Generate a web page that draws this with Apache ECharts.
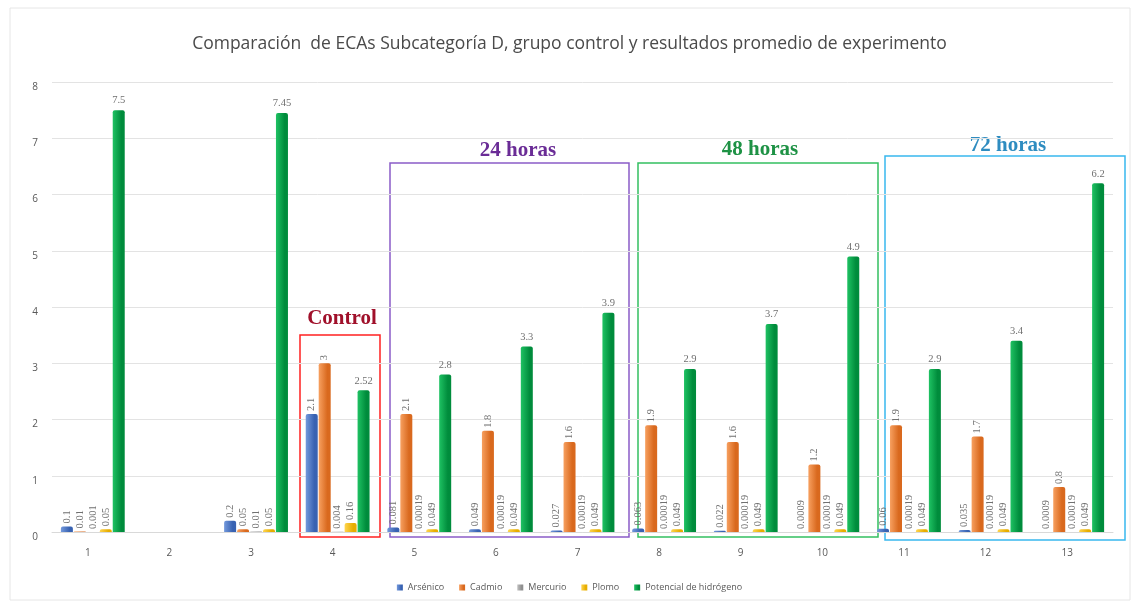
<!DOCTYPE html>
<html>
<head>
<meta charset="utf-8">
<script src="https://cdn.jsdelivr.net/npm/echarts@6/dist/echarts.min.js"></script>
<style>
  html, body { margin: 0; padding: 0; background: #fff; }
  #chart { width: 1139px; height: 605px; }
</style>
</head>
<body>
<div id="chart"></div>
<script>
const categories = ['1', '2', '3', '4', '5', '6', '7', '8', '9', '10', '11', '12', '13'];
const arsenico = [0.1, null, 0.2, 2.1, 0.081, 0.049, 0.027, 0.063, 0.022, 0.0009, 0.06, 0.035, 0.0009];
const cadmio = [0.01, null, 0.05, 3, 2.1, 1.8, 1.6, 1.9, 1.6, 1.2, 1.9, 1.7, 0.8];
const mercurio = [0.001, null, 0.01, 0.004, 0.00019, 0.00019, 0.00019, 0.00019, 0.00019, 0.00019, 0.00019, 0.00019, 0.00019];
const plomo = [0.05, null, 0.05, 0.16, 0.049, 0.049, 0.049, 0.049, 0.049, 0.049, 0.049, 0.049, 0.049];
const ph = [7.5, null, 7.45, 2.52, 2.8, 3.3, 3.9, 2.9, 3.7, 4.9, 2.9, 3.4, 6.2];
const yTicks = [0, 1, 2, 3, 4, 5, 6, 7, 8];

var chart = echarts.init(document.getElementById('chart'));

const grad = (light, dark) => new echarts.graphic.LinearGradient(0, 0, 1, 0, [
  { offset: 0, color: light },
  { offset: 0.72, color: dark },
  { offset: 0.73, color: dark },
  { offset: 1, color: dark }
]);

const rotLabel = {
  show: true,
  position: 'top',
  rotate: 90,
  align: 'left',
  verticalAlign: 'middle',
  distance: 3,
  fontFamily: 'Liberation Serif',
  fontSize: 10.5,
  color: '#707070'
};

const mk = (name, data, light, dark, label) => ({
  name: name,
  type: 'bar',
  data: data,
  barWidth: 12,
  barGap: '8%',
  itemStyle: { color: grad(light, dark), borderRadius: [2, 2, 0, 0] },
  label: label
});

const option = {
  animation: false,
  color: ['#4472C4', '#ED7D31', '#A5A5A5', '#FFC000', '#00B050'],
  title: {
    text: 'Comparación  de ECAs Subcategoría D, grupo control y resultados promedio de experimento',
    left: 'center',
    top: 30,
    textStyle: { fontFamily: 'Open Sans', fontSize: 17.5, fontWeight: 'normal', color: '#4a4a4a' }
  },
  grid: { left: 52, right: 26, top: 82, bottom: 73 },
  legend: {
    bottom: 8,
    left: 'center',
    icon: 'rect',
    itemWidth: 6,
    itemHeight: 6,
    itemGap: 15,
    textStyle: { fontFamily: 'Open Sans', fontSize: 9, color: '#595959' }
  },
  xAxis: {
    type: 'category',
    data: categories,
    axisTick: { show: false },
    axisLine: { lineStyle: { color: '#d9d9d9' } },
    axisLabel: { color: '#595959', fontSize: 10, fontFamily: 'Open Sans', margin: 16, padding: [0, 10, 0, 0] }
  },
  yAxis: {
    type: 'value',
    min: yTicks[0],
    max: yTicks[yTicks.length - 1],
    interval: 1,
    axisLabel: { color: '#595959', fontSize: 10, fontFamily: 'Open Sans', margin: 14, verticalAlign: 'top' },
    splitLine: { lineStyle: { color: '#e3e3e3' } }
  },
  series: [
    mk('Arsénico', arsenico, '#7399dc', '#3862b2', rotLabel),
    mk('Cadmio', cadmio, '#f7a060', '#d9691e', rotLabel),
    mk('Mercurio', mercurio, '#c0c0c0', '#8f8f8f', rotLabel),
    mk('Plomo', plomo, '#ffd54f', '#e6ad00', rotLabel),
    mk('Potencial de hidrógeno', ph, '#1fc263', '#008c3c', {
      show: true, position: 'top', distance: 4,
      fontFamily: 'Liberation Serif', fontSize: 10.5, color: '#707070'
    })
  ],
  graphic: [
    { type: 'rect', shape: { x: 10, y: 8, width: 1120, height: 592 }, style: { fill: 'none', stroke: '#e6e6e6', lineWidth: 1 }, silent: true },
    { type: 'rect', shape: { x: 300, y: 335, width: 80, height: 202 }, style: { fill: 'none', stroke: '#ff2020', lineWidth: 1.5 }, silent: true },
    { type: 'text', x: 342, y: 319, style: { text: 'Control', font: 'bold 21px "Liberation Serif"', fill: '#a0102a', align: 'center', verticalAlign: 'middle' } },
    { type: 'rect', shape: { x: 390, y: 163, width: 239, height: 374 }, style: { fill: 'none', stroke: '#8a5cc8', lineWidth: 1.5 }, silent: true },
    { type: 'text', x: 518, y: 151, style: { text: '24 horas', font: 'bold 21px "Liberation Serif"', fill: '#6a2c96', align: 'center', verticalAlign: 'middle' } },
    { type: 'rect', shape: { x: 638, y: 163, width: 240, height: 374 }, style: { fill: 'none', stroke: '#33c060', lineWidth: 1.5 }, silent: true },
    { type: 'text', x: 760, y: 150, style: { text: '48 horas', font: 'bold 21px "Liberation Serif"', fill: '#1e9245', align: 'center', verticalAlign: 'middle' } },
    { type: 'rect', shape: { x: 885, y: 156, width: 240, height: 384 }, style: { fill: 'none', stroke: '#38b8ee', lineWidth: 1.5 }, silent: true },
    { type: 'text', x: 1008, y: 146, style: { text: '72 horas', font: 'bold 21px "Liberation Serif"', fill: '#2e8cc0', align: 'center', verticalAlign: 'middle' } }
  ]
};

chart.setOption(option);
</script>
</body>
</html>
